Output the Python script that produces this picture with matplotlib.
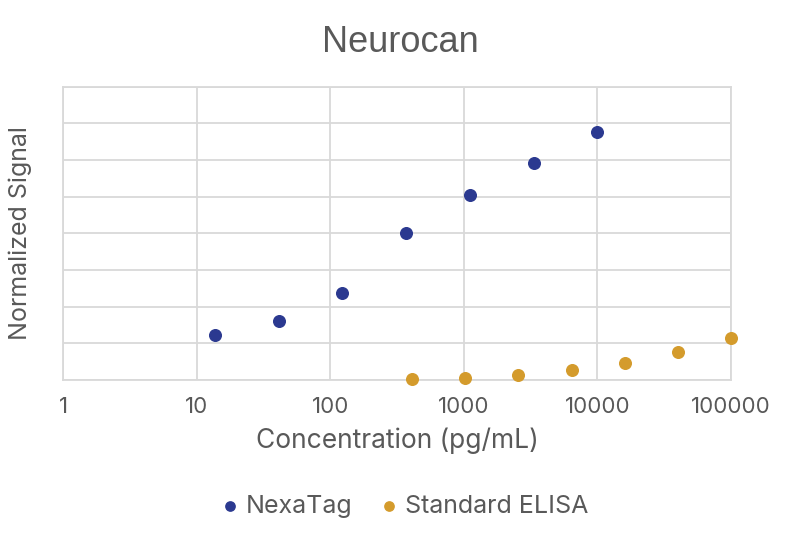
import matplotlib
matplotlib.use("Agg")
import matplotlib.pyplot as plt
from matplotlib.ticker import FixedLocator, FixedFormatter, NullLocator

# data (y in gridline units, 0..8)
nexatag_conc = [13.7, 41.2, 123.5, 370.4, 1111, 3333, 10000]
nexatag_sig = [1.23, 1.61, 2.36, 4.01, 5.05, 5.93, 6.75]
elisa_conc = [409.6, 1024, 2560, 6400, 16000, 40000, 100000]
elisa_sig = [0.02, 0.05, 0.14, 0.27, 0.46, 0.76, 1.15]
xticks = [1, 10, 100, 1000, 10000, 100000]
xtick_labels = ["1", "10", "100", "1000", "10000", "100000"]

BLUE, GOLD, TXT, GRID = "#2B3990", "#D49B2C", "#595959", "#D9D9D9"
plt.rcParams["font.family"] = ["Inter", "DejaVu Sans"]

fig = plt.figure(figsize=(8, 5.42), dpi=100)
ax = fig.add_axes([0.07875, 0.2989, 0.835, 0.5412])
ax.scatter(nexatag_conc, nexatag_sig, s=70, color=BLUE, label="NexaTag", zorder=3, clip_on=False)
ax.scatter(elisa_conc, elisa_sig, s=70, color=GOLD, label="Standard ELISA", zorder=3, clip_on=False)

ax.set_xscale("log")
ax.set_xlim(1, 100000)
ax.set_ylim(0, 8)
ax.xaxis.set_major_locator(FixedLocator(xticks))
ax.xaxis.set_major_formatter(FixedFormatter(xtick_labels))
ax.xaxis.set_minor_locator(NullLocator())
ax.set_yticks(range(0, 9))
ax.set_yticklabels([])
ax.tick_params(length=0, labelsize=16, labelcolor=TXT, pad=12)
ax.grid(True, color=GRID, lw=1.3)
ax.set_axisbelow(True)
for s in ax.spines.values():
    s.set_color(GRID); s.set_linewidth(1.3)

ax.set_xlabel("Concentration (pg/mL)", fontsize=19, color=TXT, labelpad=8)
ax.set_ylabel("Normalized Signal", fontsize=18, color=TXT, labelpad=10)
fig.text(0.5, 0.922, "Neurocan", ha="center", va="center", fontsize=26, color=TXT,
         family=["Liberation Sans", "DejaVu Sans"])
ax.legend(loc="center", bbox_to_anchor=(0.506, 0.066), bbox_transform=fig.transFigure, ncol=2,
          frameon=False, fontsize=18, labelcolor=TXT, handlelength=0.7, handletextpad=0.3,
          columnspacing=1.1, markerscale=0.8)
fig.savefig("out.png", dpi=100)
